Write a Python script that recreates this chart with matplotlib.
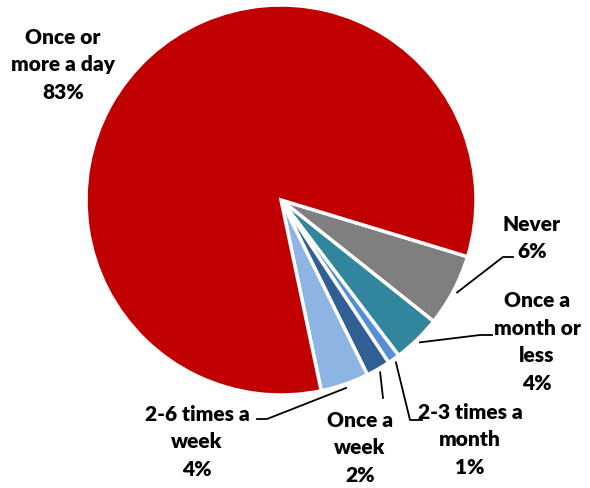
import numpy as np
from matplotlib import pyplot as plt

## DATA
categories = ["Never", "Once a\nmonth or\nless", "2-3 times a\nmonth",
              "Once a\nweek", "2-6 times a\nweek", "Once or\nmore a day"]
shares = [6, 4, 1, 2, 4, 83]
colors = ["#7F7F7F", "#31859C", "#558ED5", "#2F5F93", "#8EB4E3", "#C00000"]

# label centres and leader elbows, in pixels from the top-left corner
label_xy = [(532, 238), (537, 342), (470, 440), (360, 448), (197, 442), (63, 65)]
elbows = [[(503, 257), (513, 257)],
          [(480, 335), (492, 335)],
          [(410, 420), (422, 420)],
          [(383, 398)],
          [(267, 419), (257, 419)],
          []]

W, H = 590, 488
CX, CY, R = 281, 200, 195


def px(x, y):
    # pixel (y down) -> data (y up)
    return x, H - y


def main():
    plt.rcParams['font.family'] = ['Lato', 'DejaVu Sans']
    fig = plt.figure(figsize=(W / 100, H / 100), dpi=100)
    ax = fig.add_axes([0, 0, 1, 1])

    wedges, _ = ax.pie(shares, colors=colors, startangle=-16.9,
                       counterclock=False, center=px(CX, CY), radius=R,
                       wedgeprops=dict(edgecolor='white', linewidth=2.5))

    for w, cat, val, (lx, ly), pts in zip(wedges, categories, shares,
                                          label_xy, elbows):
        ax.text(*px(lx, ly), "{}\n{}%".format(cat, val), ha='center',
                va='center', fontsize=15, fontweight='heavy',
                linespacing=1.55, color='black')
        if not pts:
            continue
        mid = np.deg2rad((w.theta1 + w.theta2) / 2)
        x0 = CX + R * 1.02 * np.cos(mid)
        y0 = CY - R * 1.02 * np.sin(mid)
        xs = [x0] + [p[0] for p in pts]
        ys = [H - y0] + [H - p[1] for p in pts]
        ax.plot(xs, ys, color='black', linewidth=1.3)

    ax.set_xlim(0, W)
    ax.set_ylim(0, H)
    ax.set_aspect('equal')
    ax.axis('off')

    fig.savefig("out.png", dpi=100)


if __name__ == "__main__":
    main()
